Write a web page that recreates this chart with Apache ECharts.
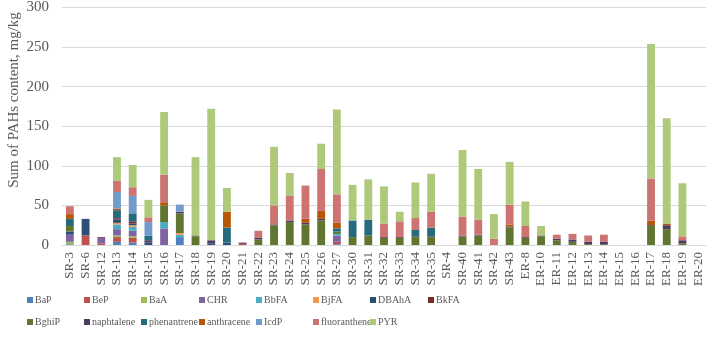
<!DOCTYPE html>
<html><head><meta charset="utf-8">
<script src="https://cdn.jsdelivr.net/npm/echarts@6/dist/echarts.min.js"></script>
<style>html,body{margin:0;padding:0;background:#fff}#c{width:708px;height:337px}</style>
</head><body><div id="c"></div>
<script>
const categories = ['SR-3','SR-6','SR-12','SR-13','SR-14','SR-15','SR-16','SR-17','SR-18','SR-19','SR-20','SR-21','SR-22','SR-23','SR-24','SR-25','SR-26','SR-27','SR-30','SR-31','SR-32','SR-33','SR-34','SR-35','SR-4','SR-40','SR-41','SR-42','SR-43','ER-8','ER-10','ER-11','ER-12','ER-13','ER-14','ER-15','ER-16','ER-17','ER-18','ER-19','ER-20'];
const yTicks = [0,50,100,150,200,250,300];
const BaP = [1,0,0,4,3,0,0,10,0,0, 0,0,0,0,0,0,0,1,0,0, 0,0,0,0,0,0,0,0,0,0, 0,0,0,0,0,0,0,0,0,0, 0];
const BeP = [0,12,2,6,6,0,0,0,0,0, 0,1.5,0,0,0,0,0,3,0,0, 0,0,0,0,0,0,0,0,0,0, 0,0,0,0,0,0,0,0,0,0, 0];
const BaA = [3,0,0,2,2,0,0,0,0,0, 0,0,0,0,0,0,0,0,0,0, 0,0,0,0,0,0,0,0,0,0, 0,0,0,0,0,0,0,0,0,0, 0];
const CHR = [9,0,7,8,7,0,21,0,0,0, 0,0,0,0,0,0,0,8,0,0, 0,0,0,0,0,0,0,0,0,0, 0,0,0,0,0,0,0,0,0,0, 0];
const BbFA = [0,0,0,6,5,0,8,3,0,0, 0,0,0,0,0,0,0,2,0,0, 0,0,0,0,0,0,0,0,0,0, 0,0,0,0,0,0,0,0,0,0, 0];
const BjFA = [0,0,0,2,2,0,0,2,0,0, 0,0,0,0,0,0,0,0,0,0, 0,0,0,0,0,0,0,0,0,0, 0,0,0,0,0,0,0,0,0,0, 0];
const DBAhA = [4,21,0,4,2,3,0,0,0,2, 3,0,0,0,0,0,0,0,0,0, 0,0,0,0,0,0,0,0,0,0, 0,0,0,0,0,0,0,0,0,0, 0];
const BkFA = [0,0,1,1,2,0,0,0,0,0, 0,0,0,0,0,0,0,0,0,0, 0,0,0,0,0,0,0,0,0,0, 0,0,0,0,0,0,0,0,0,0, 0];
const BghiP = [7,0,0,0,0,0,21,25,11,0, 0,0,7,25,29,26,31,3,10,12, 9,9,10,10,0,11,12,0,22,9, 11,6,4,1,1,0,0,24,20,2, 0];
const naphtalene = [0,0,0,1,1,3,0,2,1,4, 0,1.5,2,1,2,2,2,0,0,0, 1,1,1,1,0,1,1,0,1,1, 1,2,3,3,3,0,0,1,5,4, 0];
const phenantrene = [9,0,0,10,10,6,0,0,0,0, 19,0,0,0,0,0,0,4,21,20, 0,0,8,11,0,0,0,0,0,0, 0,0,0,0,0,0,0,0,0,0, 0];
const anthracene = [6,0,0,2,0,0,4,0,0,0, 20,0,0,0,0,5,10,7,0,0, 0,0,0,0,0,0,0,0,3,0, 0,0,0,0,0,0,0,6,2,0, 0];
const IcdP = [0,0,0,21,22,17,0,9,0,0, 0,0,0,0,0,0,0,0,0,0, 0,0,0,0,0,0,0,0,0,0, 0,0,0,0,0,0,0,0,0,0, 0];
const fluoranthene = [10,0,0,14,11,6,35,0,0,0, 0,0,9,24,31,42,53,36,0,0, 17,20,15,20,0,24,19,8,25,14, 0,5,7,8,9,0,0,53,0,5, 0];
const PYR = [0,0,0,30,28,22,79,0,99,166, 30,0,0,74,29,0,32,107,45,51, 47,12,45,48,0,84,64,31,54,31, 12,0,0,0,0,0,0,170,133,67, 0];

const seriesNames = ['BaP','BeP','BaA','CHR','BbFA','BjFA','DBAhA','BkFA','BghiP','naphtalene','phenantrene','anthracene','IcdP','fluoranthene','PYR'];
const seriesData = [BaP,BeP,BaA,CHR,BbFA,BjFA,DBAhA,BkFA,BghiP,naphtalene,phenantrene,anthracene,IcdP,fluoranthene,PYR];
const colors = ['#4F81BD','#C0504D','#9BBB59','#8064A2','#4BACC6','#F79646','#2C4D75','#772C2A','#5F7530','#4D3B62','#276A7C','#B65708','#729ACA','#CD7371','#AFC97A'];

const FONT = 'Liberation Serif';
const legendCols = [27,84,141,199,256,313,370,428];
const legends = seriesNames.map((n,i)=>({
  data:[n], orient:'horizontal', padding:0, itemGap:0,
  left: legendCols[i<8?i:i-8], top: i<8?295:317,
  itemWidth:6, itemHeight:6, icon:'rect', selectedMode:false,
  textStyle:{fontFamily:FONT,fontSize:10,color:'#595959',padding:[0,0,0,-3]}
}));

const chart = echarts.init(document.getElementById('c'),null,{renderer:'canvas'});
chart.setOption({
  animation:false,
  color:colors,
  grid:{left:62,right:2,top:5,bottom:92,containLabel:false},
  legend:legends,
  graphic:[{type:'text',rotation:Math.PI/2,x:14,y:100,
    style:{text:'Sum of PAHs content, mg/kg',font:'15px "Liberation Serif"',fill:'#595959',textAlign:'center',textVerticalAlign:'middle'}}],
  xAxis:{type:'category',data:categories,
    axisLine:{lineStyle:{color:'#d9d9d9'}},axisTick:{show:false},
    axisLabel:{interval:0,rotate:90,margin:7,fontFamily:FONT,fontSize:13,color:'#595959'}},
  yAxis:{type:'value',min:yTicks[0],max:yTicks[yTicks.length-1],interval:50,
    axisLine:{show:false},axisTick:{show:false},
    splitLine:{lineStyle:{color:'#d9d9d9'}},
    axisLabel:{margin:13,fontFamily:FONT,fontSize:15,color:'#595959'}},
  series:seriesNames.map((n,i)=>({name:n,type:'bar',stack:'total',data:seriesData[i],barWidth:'50%',itemStyle:{color:colors[i]}}))
});
</script></body></html>
